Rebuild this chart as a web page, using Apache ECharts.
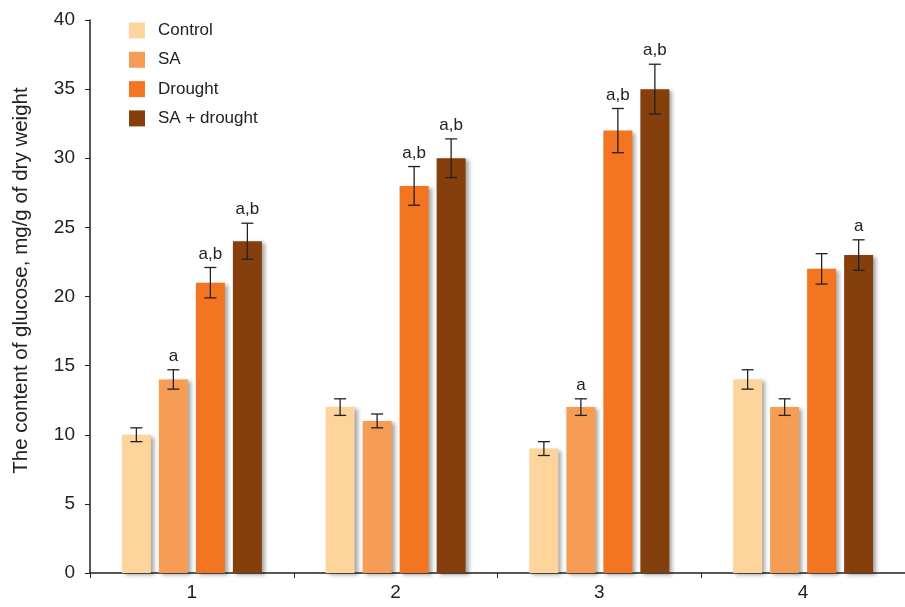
<!DOCTYPE html>
<html><head><meta charset="utf-8">
<script src="https://cdn.jsdelivr.net/npm/echarts@6/dist/echarts.min.js"></script>
<style>html,body{margin:0;padding:0;background:#fff}#c{width:905px;height:607px}</style>
</head><body><div id="c"></div>
<script>
const categories = ['1', '2', '3', '4'];
const seriesNames = ['Control', 'SA', 'Drought', 'SA + drought'];
const controlVals = [10, 12, 9, 14];
const saVals = [14, 11, 12, 12];
const droughtVals = [21, 28, 32, 22];
const saDroughtVals = [24, 30, 35, 23];
const controlErr = [0.5, 0.6, 0.5, 0.7];
const saErr = [0.7, 0.5, 0.6, 0.6];
const droughtErr = [1.1, 1.4, 1.6, 1.1];
const saDroughtErr = [1.3, 1.4, 1.8, 1.1];
const controlLbl = ['', '', '', ''];
const saLbl = ['a', '', 'a', ''];
const droughtLbl = ['a,b', 'a,b', 'a,b', ''];
const saDroughtLbl = ['a,b', 'a,b', 'a,b', 'a'];
const yTicks = [0, 5, 10, 15, 20, 25, 30, 35, 40];

const colors = ['#FCD49C', '#F69D55', '#F37421', '#843F0C'];
const allVals = [controlVals, saVals, droughtVals, saDroughtVals];
const allErr = [controlErr, saErr, droughtErr, saDroughtErr];
const allLbl = [controlLbl, saLbl, droughtLbl, saDroughtLbl];
const BW = 29, STEP = 37;

const series = [];
seriesNames.forEach((n, i) => {
  series.push({
    name: n, type: 'bar', data: allVals[i], barWidth: BW, barGap: ((STEP - BW) / BW * 100) + '%',
    itemStyle: { color: colors[i], shadowColor: 'rgba(0,0,0,0.35)', shadowBlur: 4, shadowOffsetX: 3, shadowOffsetY: 2 },
    z: 2
  });
});
seriesNames.forEach((n, i) => {
  const data = allVals[i].map((v, k) => [k, v, allErr[i][k], allLbl[i][k]]);
  series.push({
    type: 'custom', name: n + '_err', data: data, z: 5, silent: true,
    encode: { x: 0, y: 1 },
    renderItem: function (params, api) {
      const k = api.value(0), v = api.value(1), e = api.value(2);
      const lbl = data[params.dataIndex][3];
      const cx = api.coord([k, v])[0] + (i - 1.5) * STEP;
      const yt = api.coord([k, v + e])[1];
      const yb = api.coord([k, v - e])[1];
      const st = { stroke: '#222', lineWidth: 1.3 };
      const children = [
        { type: 'line', shape: { x1: cx, y1: yt, x2: cx, y2: yb }, style: st },
        { type: 'line', shape: { x1: cx - 6, y1: yt, x2: cx + 6, y2: yt }, style: st },
        { type: 'line', shape: { x1: cx - 6, y1: yb, x2: cx + 6, y2: yb }, style: st }
      ];
      if (lbl) children.push({ type: 'text', style: { text: lbl, x: cx, y: yt - 5, textAlign: 'center', textVerticalAlign: 'bottom', fill: '#222', font: '17px "Liberation Sans", Arial, sans-serif' } });
      return { type: 'group', children: children };
    }
  });
});

const chart = echarts.init(document.getElementById('c'));
chart.setOption({
  animation: false,
  textStyle: { fontFamily: '"Liberation Sans", Arial, sans-serif' },
  grid: { left: 90, right: -5, top: 20, bottom: 34 },
  legend: {
    data: seriesNames, orient: 'vertical', left: 124, top: 17, icon: 'rect',
    itemWidth: 16, itemHeight: 16, itemGap: 12.3,
    textStyle: { fontSize: 17, color: '#222', padding: [0, 0, 0, 8] }
  },
  xAxis: {
    type: 'category', data: categories,
    axisLine: { lineStyle: { color: '#222', width: 1.5 } },
    axisTick: { show: true, length: 5, lineStyle: { color: '#222' } },
    axisLabel: { fontSize: 19, color: '#222', margin: 10 }
  },
  yAxis: {
    type: 'value', min: yTicks[0], max: yTicks[yTicks.length - 1], interval: 5,
    name: 'The content of glucose, mg/g of dry weight', nameLocation: 'middle', nameGap: 58,
    nameTextStyle: { fontSize: 20.5, color: '#222', padding: [0, 0, 0, 32] },
    axisLine: { show: true, lineStyle: { color: '#222', width: 1.5 } },
    axisTick: { show: true, length: 5, lineStyle: { color: '#222' } },
    axisLabel: { fontSize: 19, color: '#222', margin: 15 },
    splitLine: { show: false }
  },
  series: series
});
</script></body></html>
